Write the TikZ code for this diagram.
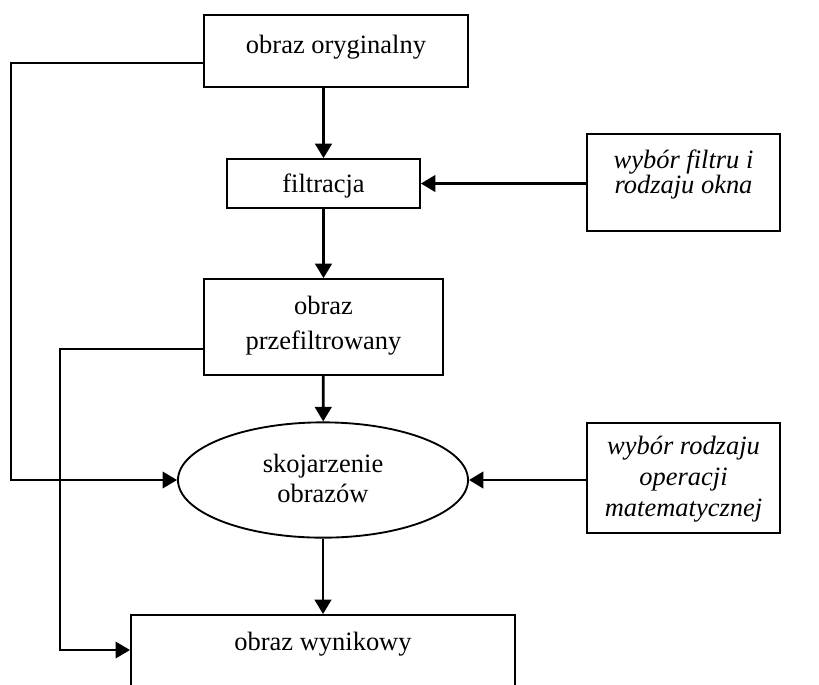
\documentclass[tikz,border=0pt]{standalone}
\usepackage{fontspec}
\setmainfont{Liberation Serif}
\usetikzlibrary{shapes.geometric,arrows.meta,positioning}

\begin{document}
\begin{tikzpicture}[x=0.017cm, y=-0.017cm,
    every node/.style={draw, rectangle, line width=0.9pt, inner sep=0pt, align=center,
      text height=9pt, font=\fontsize{12.8}{16}\selectfont},
    choice/.style={minimum width=3.28cm},
    match/.style={ellipse},
    link/.style={line width=1.3pt},
    feed/.style={line width=1pt},
    >={Triangle[length=7pt,width=8pt]}]

  \useasboundingbox (0,0) rectangle (819,684);
  \clip (0,0) rectangle (819,684);

  \node[minimum width=4.49cm, minimum height=1.22cm, text depth=7pt] (orig) at (336,51) {obraz oryginalny};
  \node[minimum width=3.28cm, minimum height=0.83cm, text depth=0pt] (filt) at (323.5,183.5) {filtracja};
  \node[minimum width=4.06cm, minimum height=1.63cm, text height=26pt, text depth=3.8pt,
    font=\fontsize{12.8}{17}\selectfont] (prefilt) at (323.5,327) {obraz\\przefiltrowany};
  \node[match, minimum width=4.93cm, minimum height=1.96cm, text height=23.5pt, text depth=2.2pt,
    font=\fontsize{12.8}{14.5}\selectfont] (match) at (323,480) {skojarzenie\\obrazów};
  \node[minimum width=6.53cm, minimum height=1.445cm, text depth=16.2pt] (result) at (323,657.5) {obraz wynikowy};

  \node[choice, minimum height=1.65cm, text height=21.1pt, text depth=10.9pt,
    font=\fontsize{12.8}{12.1}\selectfont\itshape] (selfilt) at (683.5,182.5) {wybór filtru i\\rodzaju okna};
  \node[choice, minimum height=1.87cm, text height=39pt, text depth=1.3pt,
    font=\fontsize{12.8}{15}\selectfont\itshape] (selop) at (683.5,478) {wybór rodzaju\\operacji\\matematycznej};

  \coordinate (bendA) at (11,63);
  \coordinate (bendB) at (60,349);

  % main flow
  \draw[link,->] (filt.north |- orig.south) -- (filt);
  \draw[link,->] (filt) -- (prefilt);
  \draw[link,->] (prefilt) -- (match);
  \draw[link,->] (match) -- (result);
  \draw[link,->] (selfilt.west |- filt.east) -- (filt.east);
  \draw[link,->] (selop.west |- match.east) -- (match.east);

  % side lines
  \draw[feed,->] (orig.west |- bendA) -- (bendA) |- (match.west);
  \draw[feed,->] (prefilt.west |- bendB) -- (bendB) |- (result.west |- 0,650);

\end{tikzpicture}
\end{document}
